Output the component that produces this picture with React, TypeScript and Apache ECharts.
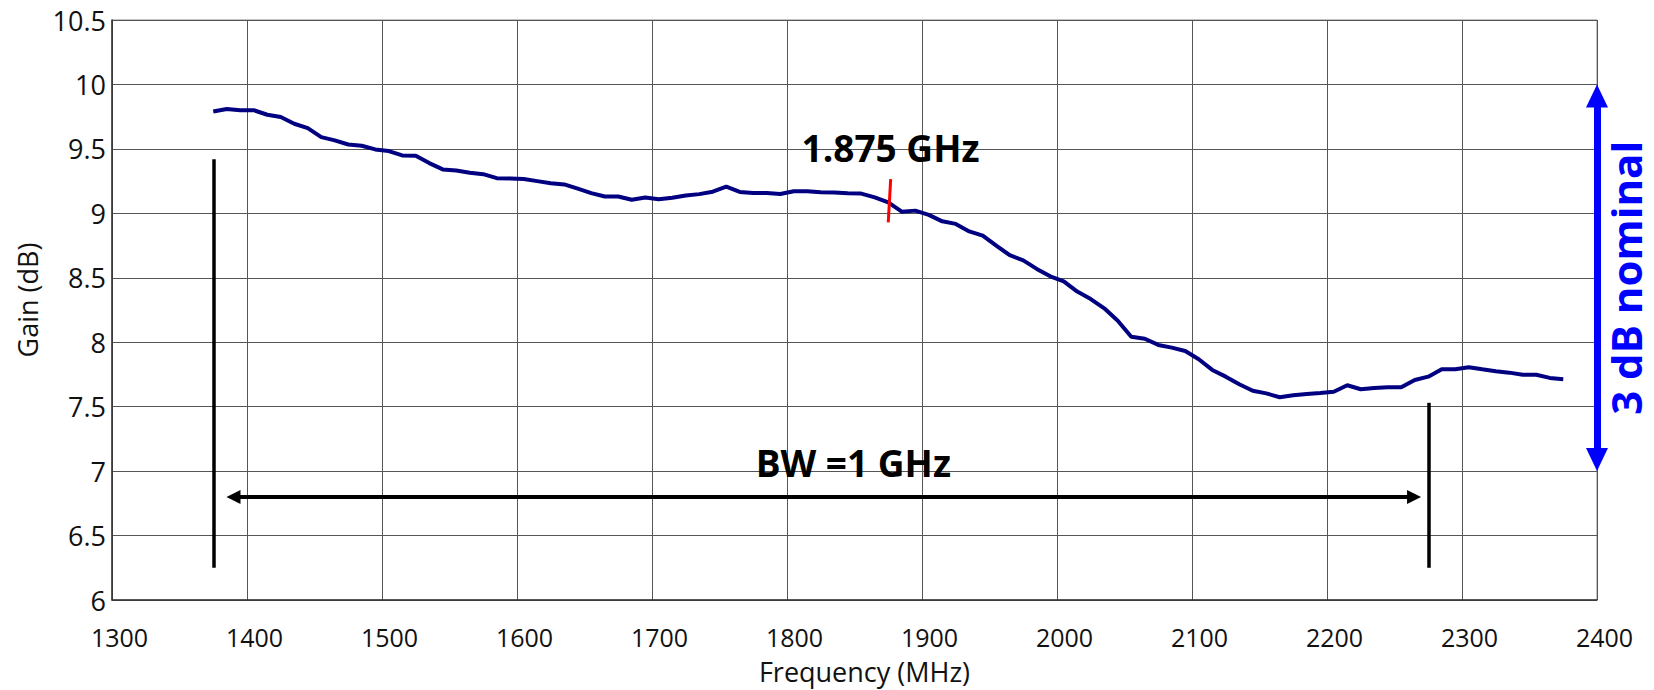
import React, { useEffect, useRef } from "react";
import * as echarts from "echarts";

// X axis: frequency (MHz)
const frequency = [
  1375, 1385, 1395, 1405, 1415, 1425, 1435, 1445, 1455, 1465,
  1475, 1485, 1495, 1505, 1515, 1525, 1535, 1545, 1555, 1565,
  1575, 1585, 1595, 1605, 1615, 1625, 1635, 1645, 1655, 1665,
  1675, 1685, 1695, 1705, 1715, 1725, 1735, 1745, 1755, 1765,
  1775, 1785, 1795, 1805, 1815, 1825, 1835, 1845, 1855, 1865,
  1875, 1885, 1895, 1905, 1915, 1925, 1935, 1945, 1955, 1965,
  1975, 1985, 1995, 2005, 2015, 2025, 2035, 2045, 2055, 2065,
  2075, 2085, 2095, 2105, 2115, 2125, 2135, 2145, 2155, 2165,
  2175, 2185, 2195, 2205, 2215, 2225, 2235, 2245, 2255, 2265,
  2275, 2285, 2295, 2305, 2315, 2325, 2335, 2345, 2355, 2365,
  2375,
];

// Gain (dB)
const gain = [
  9.79, 9.81, 9.8, 9.8, 9.765, 9.747, 9.695, 9.661, 9.591, 9.566,
  9.534, 9.524, 9.496, 9.483, 9.449, 9.447, 9.39, 9.341, 9.333, 9.315,
  9.304, 9.273, 9.271, 9.266, 9.25, 9.234, 9.224, 9.191, 9.157, 9.131,
  9.131, 9.105, 9.123, 9.11, 9.121, 9.139, 9.149, 9.168, 9.207, 9.166,
  9.158, 9.158, 9.15, 9.171, 9.171, 9.163, 9.161, 9.155, 9.153, 9.124,
  9.085, 9.013, 9.021, 8.988, 8.938, 8.918, 8.86, 8.827, 8.749, 8.675,
  8.635, 8.569, 8.511, 8.472, 8.393, 8.335, 8.263, 8.167, 8.043, 8.027,
  7.979, 7.958, 7.932, 7.868, 7.785, 7.733, 7.674, 7.624, 7.603, 7.573,
  7.588, 7.598, 7.606, 7.616, 7.666, 7.635, 7.645, 7.65, 7.65, 7.707,
  7.733, 7.79, 7.79, 7.806, 7.79, 7.775, 7.764, 7.748, 7.748, 7.723,
  7.713,
];

// Annotations (data coordinates)
const bwLeftLine = [[1375.5, 9.42], [1375.5, 6.25]];
const bwRightLine = [[2275.5, 7.53], [2275.5, 6.25]];
const bwArrow = [[1390, 6.8], [2264.5, 6.8]];
const markerLine = [[1876.8, 9.266], [1875, 8.93]];
const nominalArrow = [[2400, 9.91], [2400, 7.09]];
const labelTexts = ["1.875 GHz", "BW =1 GHz", "3 dB nominal"];
const labelCoords = [[1876.7, 9.51], [1849.1, 7.063], [2400, 8.5]];

const xTicks = { min: 1300, max: 2400, interval: 100 };
const yTicks = { min: 6, max: 10.5, interval: 0.5 };

const FONT = "'Open Sans', 'Noto Sans', sans-serif";

export default function App() {
  const ref = useRef<HTMLDivElement>(null);

  useEffect(() => {
    if (!ref.current) return;
    const chart = echarts.init(ref.current, undefined, { renderer: "svg" });

    const seg = (pts: number[][], color: string, width: number, sym: string, symSize: number[]) => [
      { coord: pts[0], symbol: sym, symbolSize: symSize, lineStyle: { color, width, type: "solid" } },
      { coord: pts[1], symbol: sym, symbolSize: symSize },
    ];

    const option: any = {
      animation: false,
      textStyle: { fontFamily: FONT },
      grid: {
        left: 112,
        top: 20,
        right: 57,
        bottom: 90,
        show: true,
        borderColor: "#888",
        borderWidth: 1,
        backgroundColor: "transparent",
      },
      xAxis: {
        type: "value",
        min: xTicks.min,
        max: xTicks.max,
        interval: xTicks.interval,
        name: "Frequency (MHz)",
        nameLocation: "middle",
        nameGap: 58,
        nameTextStyle: { fontSize: 27, color: "#111", fontFamily: FONT, padding: [0, 0, 0, 20] },
        axisLine: { show: true, lineStyle: { color: "#333", width: 1.5 } },
        axisTick: { show: false },
        axisLabel: {
          fontSize: 25,
          color: "#111",
          margin: 24,
          fontFamily: FONT,
          padding: [0, 0, 0, 15],
          formatter: (v: number) => String(v),
        },
        splitLine: { show: true, lineStyle: { color: "#555", width: 1 } },
      },
      yAxis: {
        type: "value",
        min: yTicks.min,
        max: yTicks.max,
        interval: yTicks.interval,
        name: "Gain (dB)",
        nameLocation: "middle",
        nameRotate: 90,
        nameGap: 71,
        nameTextStyle: { fontSize: 27, color: "#111", fontFamily: FONT, padding: [0, 0, 0, 20] },
        axisLine: { show: true, lineStyle: { color: "#333", width: 1.5 } },
        axisTick: { show: false },
        axisLabel: {
          fontSize: 27,
          color: "#111",
          margin: 6,
          fontFamily: FONT,
          padding: [13, 0, 0, 0],
          formatter: (v: number) => String(v),
        },
        splitLine: { show: true, lineStyle: { color: "#555", width: 1 } },
      },
      series: [
        {
          type: "line",
          data: frequency.map((f, i) => [f, gain[i]]),
          symbol: "none",
          lineStyle: { color: "#000080", width: 4 },
          itemStyle: { color: "#000080" },
          silent: true,
          markLine: {
            silent: true,
            animation: false,
            label: { show: false },
            emphasis: { disabled: true },
            data: [
              seg(bwLeftLine, "#000", 3.5, "none", [0, 0]),
              seg(bwRightLine, "#000", 3.5, "none", [0, 0]),
              seg(bwArrow, "#000", 4, "triangle", [14, 14]),
              seg(markerLine, "#ff0000", 3, "none", [0, 0]),
              seg(nominalArrow, "#0000ff", 7, "triangle", [22, 23]),
            ],
          },
          markPoint: {
            silent: true,
            animation: false,
            symbol: "circle",
            symbolSize: 1,
            itemStyle: { color: "transparent" },
            label: {
              show: true,
              position: "inside",
              formatter: (p: any) => p.name,
              fontFamily: FONT,
              fontWeight: "bold",
            },
            data: [
              { name: labelTexts[0], coord: labelCoords[0], label: { fontSize: 37, color: "#000" } },
              { name: labelTexts[1], coord: labelCoords[1], label: { fontSize: 37, color: "#000" } },
              {
                name: labelTexts[2],
                coord: labelCoords[2],
                label: { fontSize: 42, lineHeight: 42, color: "#0000ff", rotate: 90, offset: [0, 28] },
              },
            ],
          },
        },
      ],
    };

    chart.setOption(option);
    return () => chart.dispose();
  }, []);

  return (
    <div
      ref={ref}
      style={{ position: "fixed", left: 0, top: 0, width: 1654, height: 690, background: "#fff" }}
    />
  );
}
